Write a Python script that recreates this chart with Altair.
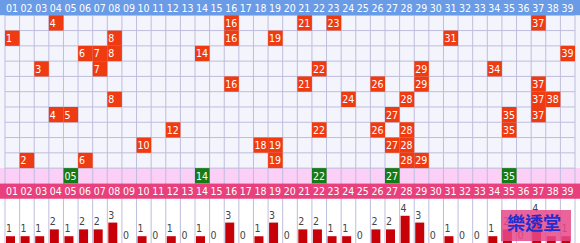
import altair as alt
import pandas as pd

# Ball numbers 01-39
numbers = list(range(1, 40))

# Ten recent draws, newest at the top
draws = [
    [4, 16, 21, 23, 37],
    [1, 8, 16, 19, 31],
    [6, 7, 8, 14, 39],
    [3, 7, 22, 29, 34],
    [16, 21, 26, 29, 37],
    [8, 24, 28, 37, 38],
    [4, 5, 27, 35, 37],
    [12, 22, 26, 28, 35],
    [10, 18, 19, 27, 28],
    [2, 6, 19, 28, 29],
]

# Highlighted numbers in the bottom (pink) row
special = [5, 14, 22, 27, 35]

# Row layout (in row units): 0 = top header, 1..10 = draws,
# 11 = highlight row, 12 = lower header, 13.. = frequency bars
N_ROWS_TOTAL = 15.9
HEADER_TOP, HIGHLIGHT_ROW, HEADER_BOTTOM = 0, 11, 12

FONT = "DejaVu Sans Condensed, DejaVu Sans"
BLUE = "#6a9be6"
PINK_HEAD = "#e8407c"
PINK_ROW = "#fccff6"
GRID_BG = "#f4f5fc"
GRID_LINE = "#bdbddd"
RED = "#ef3b12"
GREEN = "#167a16"
BAR = "#c80008"

xs = alt.Scale(domain=[0, 39], nice=False, zero=False)
ys = alt.Scale(domain=[0, N_ROWS_TOTAL], reverse=True, nice=False, zero=False)
bar_scale = alt.Scale(domain=[0, 35.7], nice=False, zero=False)

cols = pd.DataFrame({
    "n": numbers,
    "left": [n - 1 for n in numbers],
    "right": numbers,
    "label": [f"{n:02d}" for n in numbers],
})

cells = pd.DataFrame([
    {"n": n, "left": n - 1, "right": n, "top": r + 1, "bottom": r + 2,
     "mid": r + 1.5, "label": str(n)}
    for r, row in enumerate(draws) for n in row
])

spec_df = pd.DataFrame([
    {"n": n, "left": n - 1, "right": n, "top": HIGHLIGHT_ROW,
     "bottom": HIGHLIGHT_ROW + 1, "mid": HIGHLIGHT_ROW + 0.5, "label": f"{n:02d}"}
    for n in special
])

counts = pd.DataFrame({
    "n": numbers,
    "left": [n - 1 for n in numbers],
    "count": [sum(row.count(n) for row in draws) for n in numbers],
})

bands = pd.DataFrame({
    "top": [HEADER_TOP, 1, HIGHLIGHT_ROW, HEADER_BOTTOM],
    "bottom": [1, HIGHLIGHT_ROW, HIGHLIGHT_ROW + 1, HEADER_BOTTOM + 1],
    "color": [BLUE, GRID_BG, PINK_ROW, PINK_HEAD],
    "order": [0, 1, 2, 3],
})

vlines = pd.DataFrame({"x": list(range(0, 40)), "y1": 1, "y2": N_ROWS_TOTAL})
hlines = pd.DataFrame({"y": list(range(1, HIGHLIGHT_ROW + 1)), "x1": 0, "x2": 39})

X = lambda f: alt.X(f, type="quantitative", scale=xs, axis=None)
Y = lambda f: alt.Y(f, type="quantitative", scale=ys, axis=None)

# Background bands (grid area, highlight row)
bg = alt.Chart(bands[bands["order"].isin([1, 2])]).mark_rect().encode(
    x=alt.value(0), x2=alt.value(580),
    y=Y("top"), y2="bottom",
    color=alt.Color("color:N", scale=None),
)

grid_v = alt.Chart(vlines).mark_rule(color=GRID_LINE, strokeWidth=1).encode(
    x=X("x"), y=Y("y1"), y2="y2"
)
grid_h = alt.Chart(hlines).mark_rule(color=GRID_LINE, strokeWidth=1).encode(
    y=Y("y"), x=X("x1"), x2="x2"
)

# Header bands drawn over the grid lines
heads = alt.Chart(bands[bands["order"].isin([0, 3])]).mark_rect().encode(
    x=alt.value(0), x2=alt.value(580),
    y=Y("top"), y2="bottom",
    color=alt.Color("color:N", scale=None),
)

head_top_df = cols.assign(mid=HEADER_TOP + 0.5)
head_bot_df = cols.assign(mid=HEADER_BOTTOM + 0.5)
head_text_top = alt.Chart(head_top_df).mark_text(
    align="left", baseline="middle", dx=1, dy=1, color="white", font=FONT, fontSize=10.5
).encode(x=X("left"), y=Y("mid"), text="label:N")
head_text_bot = alt.Chart(head_bot_df).mark_text(
    align="left", baseline="middle", dx=1, dy=1, color="white", font=FONT, fontSize=10.5
).encode(x=X("left"), y=Y("mid"), text="label:N")

# Drawn numbers
red_cells = alt.Chart(cells).mark_rect(color=RED).encode(
    x=X("left"), x2="right", y=Y("top"), y2="bottom"
)
red_text = alt.Chart(cells).mark_text(
    align="left", baseline="middle", dx=1, dy=1, color="white", font=FONT, fontSize=10.5
).encode(x=X("left"), y=Y("mid"), text="label:N")

green_cells = alt.Chart(spec_df).mark_rect(color=GREEN).encode(
    x=X("left"), x2="right", y=Y("top"), y2="bottom"
)
green_text = alt.Chart(spec_df).mark_text(
    align="left", baseline="middle", dx=1, dy=1, color="white", font=FONT, fontSize=10.5
).encode(x=X("left"), y=Y("mid"), text="label:N")

# Frequency bars along the bottom
YB = lambda f: alt.Y(f, type="quantitative", scale=bar_scale, axis=None)
bars = alt.Chart(counts[counts["count"] > 0]).mark_bar(
    color=BAR, width=9, xOffset=5.5
).encode(x=X("left"), y=YB("count"), y2=alt.datum(0))
bar_text = alt.Chart(counts).mark_text(
    align="left", baseline="alphabetic", dx=1, dy=-4, color="#444444", font=FONT, fontSize=10.5
).encode(x=X("left"), y=YB("count"), text="count:Q")

# Site badge
badge = alt.Chart(pd.DataFrame({"t": ["樂透堂"]})).mark_rect(
    color="#e8488a", opacity=0.85
).encode(x=alt.value(501), x2=alt.value(571), y=alt.value(210), y2=alt.value(241))
badge_text = alt.Chart(pd.DataFrame({"t": ["樂透堂"]})).mark_text(
    color="#1f2fd0", font="Noto Sans CJK TC", fontSize=18, fontWeight="bold",
    align="center", baseline="middle"
).encode(x=alt.value(534), y=alt.value(225), text="t:N")

chart = alt.layer(
    bg, grid_v, grid_h, heads, head_text_top, head_text_bot,
    red_cells, red_text, green_cells, green_text,
    bars, bar_text, badge, badge_text,
).resolve_scale(y="independent").properties(
    width=580, height=243, padding=0,
    autosize=alt.AutoSizeParams(type="none"),
    background="white",
).configure_view(stroke=None)

chart.save("out.html", embed_options={"renderer": "svg", "actions": False})
